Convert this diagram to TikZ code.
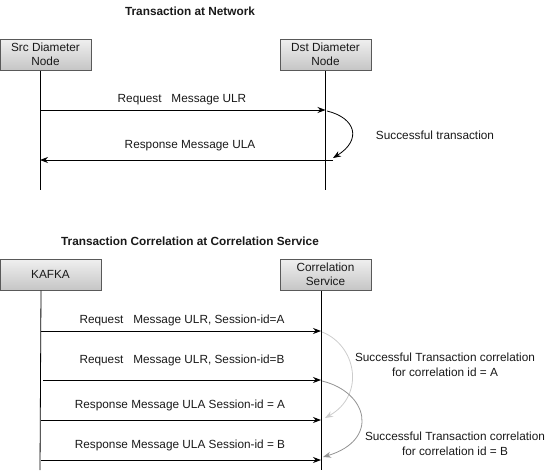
\documentclass[tikz,border=0pt]{standalone}
\usepackage{fontspec}
\setmainfont{Liberation Sans}
\usetikzlibrary{arrows.meta}
\begin{document}
\begin{tikzpicture}[x=1pt,y=-1pt,
  every node/.style={font=\fontsize{11.8}{14}\selectfont, text=black!90},
  actor/.style={draw=gray!70!black, top color=gray!12, bottom color=gray!45, align=center,
     minimum height=31pt, inner sep=0pt},
  title/.style={font=\fontsize{11.8}{14}\selectfont\bfseries},
  life/.style={draw=black, line width=0.8pt},
  msg/.style={draw=black, line width=0.8pt, -{Stealth[length=8pt,width=6pt]}},
  lbl/.style={inner sep=0pt},
  loopA/.style={line width=0.8pt, -{Stealth[length=8pt,width=6pt]}},
  two/.style={align=center, font=\fontsize{11.8}{15}\selectfont}
]
\path[use as bounding box] (0,0) rectangle (551,472);

% ---------- top part ----------
\node[title] (t1) at (190,11) {Transaction at Network};
\node[actor, minimum width=91pt] (src) at (45.5,54.5) {Src Diameter\\Node};
\node[actor, minimum width=91pt] (dst) at (325.5,54.5) {Dst Diameter\\Node};

\coordinate (s0) at (40,70.5);  \coordinate (s1) at (40,190);
\coordinate (d0) at (325.5,70.5); \coordinate (d1) at (325.5,190);
\draw[life] (s0) -- (s1);
\draw[life] (d0) -- (d1);

\coordinate (rqA) at (40,110); \coordinate (rqB) at (325.5,110);
\coordinate (rsA) at (333,160); \coordinate (rsB) at (40,160);
\draw[msg] (rqA) -- (rqB);
\draw[msg] (rsA) -- (rsB);
\node[lbl] (l1) at (182,100) {Request\ \ \ Message ULR};
\node[lbl] (l2) at (190,146) {Response Message ULA};

\coordinate (c0) at (327,111); \coordinate (c1) at (333,158);
\draw[loopA, draw=black] (c0) .. controls (356,118) and (362,140) .. (c1);
\node[lbl] (st) at (435,135) {Successful transaction};

% ---------- bottom part ----------
\node[title] (t2) at (190,241) {Transaction Correlation at Correlation Service};
\node[actor, minimum width=101pt] (kaf) at (50.5,274.5) {KAFKA};
\node[actor, minimum width=91pt] (cor) at (325.5,274.5) {Correlation\\Service};

\coordinate (k0) at (41,290.5);  \coordinate (k1) at (40,470);
\coordinate (q0) at (321,290.5); \coordinate (q1) at (321,470);
\draw[life] (k0) -- (k1);
\draw[life] (q0) -- (q1);

\coordinate (m1a) at (41,331); \coordinate (m1b) at (321,331);
\coordinate (m2a) at (43,380); \coordinate (m2b) at (321,380);
\coordinate (m3a) at (41,420); \coordinate (m3b) at (321,420);
\coordinate (m4a) at (41,460); \coordinate (m4b) at (321,460);
\draw[msg] (m1a) -- (m1b);
\draw[msg] (m2a) -- (m2b);
\draw[msg] (m3a) -- (m3b);
\draw[msg] (m4a) -- (m4b);
\node[lbl] (n1) at (182,320) {Request\ \ \ Message ULR, Session-id=A};
\node[lbl] (n2) at (182,360) {Request\ \ \ Message ULR, Session-id=B};
\node[lbl] (n3) at (180,405) {Response Message ULA Session-id = A};
\node[lbl] (n4) at (180,445) {Response Message ULA Session-id = B};

\coordinate (a0) at (322,332); \coordinate (a1) at (325,418);
\coordinate (b0) at (322,381); \coordinate (b1) at (323,457);
\draw[loopA, draw=gray!40] (a0) .. controls (356,345) and (366,395) .. (a1);
\draw[loopA, draw=gray!85] (b0) .. controls (368,392) and (380,440) .. (b1);

\node[lbl, two] (sa) at (445,365) {Successful Transaction correlation\\for correlation id = A};
\node[lbl, two] (sb) at (455,444) {Successful Transaction correlation\\for correlation id = B};
\end{tikzpicture}
\end{document}
